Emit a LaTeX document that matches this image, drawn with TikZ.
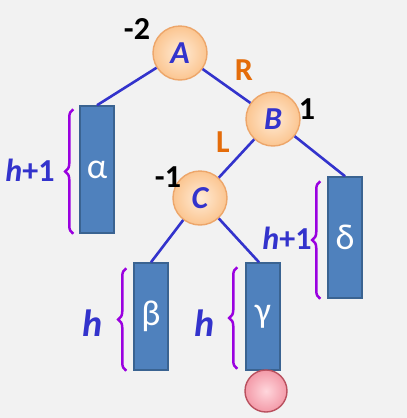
\documentclass[tikz,border=0pt]{standalone}
\usepackage{fontspec}
\setmainfont{Carlito}
\usetikzlibrary{arrows.meta,decorations.pathreplacing,positioning}
\definecolor{avlBg}{HTML}{F2F2F2}
\definecolor{avlBlue}{HTML}{3333CC}
\definecolor{avlPurple}{HTML}{9A00E0}
\definecolor{avlOrange}{HTML}{E46C0A}
\definecolor{avlBox}{HTML}{4F81BD}
\definecolor{avlBoxEdge}{HTML}{3A6391}
\definecolor{avlPeachIn}{HTML}{FFEBD6}
\definecolor{avlPeachOut}{HTML}{FBC590}
\definecolor{avlPeachEdge}{HTML}{EDA66A}
\definecolor{avlPinkIn}{HTML}{FFD6DC}
\definecolor{avlPinkOut}{HTML}{F39AA8}
\definecolor{avlPinkEdge}{HTML}{B9505E}
\newcommand\avlBig{\fontsize{32}{36}\selectfont}
\newcommand\avlHuge{\fontsize{38}{42}\selectfont}
\newcommand\avlGreek{\fontsize{36}{40}\selectfont}
\tikzset{
  avlNode/.style={circle, draw=avlPeachEdge, line width=1.4pt, inner color=avlPeachIn, outer color=avlPeachOut, minimum size=54pt, inner sep=0pt, font=\avlBig\bfseries\itshape, text=avlBlue},
  avlNewNode/.style={circle, draw=avlPinkEdge, line width=1.4pt, inner color=avlPinkIn, outer color=avlPinkOut, minimum size=42pt, inner sep=0pt},
  avlSubtree/.style={draw=avlBoxEdge, line width=1.5pt, fill=avlBox, minimum width=34pt, inner sep=0pt, text=white, font=\avlGreek},
  avlEdge/.style={draw=avlBlue, line width=2.6pt},
  avlBrace/.style={decorate, decoration={brace, amplitude=8pt}, draw=avlPurple, line width=2.5pt},
  avlHeight/.style={text=avlBlue, font=\avlBig\bfseries},
  avlBalance/.style={font=\avlBig\bfseries},
  avlDir/.style={text=avlOrange, font=\avlBig\bfseries}
}
\begin{document}
\begin{tikzpicture}[x=1pt, y=-1pt]
      \useasboundingbox (0,0) rectangle (407,418);
      \fill[avlBg] (0,0) rectangle (407,418);
      % subtrees
      \node[avlSubtree, minimum height=127pt] (alpha) at (97,169.5) {α};
      \node[avlSubtree, minimum height=121pt] (delta) at (345,237.5) {δ};
      \node[avlSubtree, minimum height=107pt] (beta) at (151,316.5) {β};
      \node[avlSubtree, minimum height=107pt] (gamma) at (263,316.5) {γ};
      % tree nodes
      \node[avlNode] (A) at (180,53) {A};
      \node[avlNode] (B) at (273,119) {B};
      \node[avlNode] (C) at (200,198) {C};
      \node[avlNewNode] (newNode) at (266,391) {};
      \draw[avlEdge] (A) -- (alpha.north);
      \draw[avlEdge] (A) -- (B);
      \draw[avlEdge] (B) -- (C);
      \draw[avlEdge] (B) -- (delta.north);
      \draw[avlEdge] (C) -- (beta.north);
      \draw[avlEdge] (C) -- ([xshift=-4pt]gamma.north);
      % balance factors and rotation directions
      \node[avlBalance] (balA) at (137,29) {-2};
      \node[avlBalance] (balB) at (307,109) {1};
      \node[avlBalance] (balC) at (168,177) {-1};
      \node[avlDir] (dirR) at (244,70) {R};
      \node[avlDir] (dirL) at (223,142) {L};
      % heights
      \draw[avlBrace] ([xshift=-6pt]alpha.south west) -- ([xshift=-6pt, yshift=-4pt]alpha.north west);
      \draw[avlBrace] ([xshift=-7pt]beta.south west) -- ([xshift=-7pt, yshift=-6pt]beta.north west);
      \draw[avlBrace] ([xshift=-8pt, yshift=2pt]gamma.south west) -- ([xshift=-8pt, yshift=-5pt]gamma.north west);
      \draw[avlBrace] ([xshift=-7pt]delta.south west) -- ([xshift=-7pt, yshift=-5pt]delta.north west);
      \node[avlHeight] (hAlpha) at (30,170) {\textit{h}+1};
      \node[avlHeight] (hDelta) at (287,238) {\textit{h}+1};
      \node[avlHeight, font=\avlHuge\bfseries\itshape] (hBeta) at (93,323) {h};
      \node[avlHeight, font=\avlHuge\bfseries\itshape] (hGamma) at (205,323) {h};
    \end{tikzpicture}
\end{document}
